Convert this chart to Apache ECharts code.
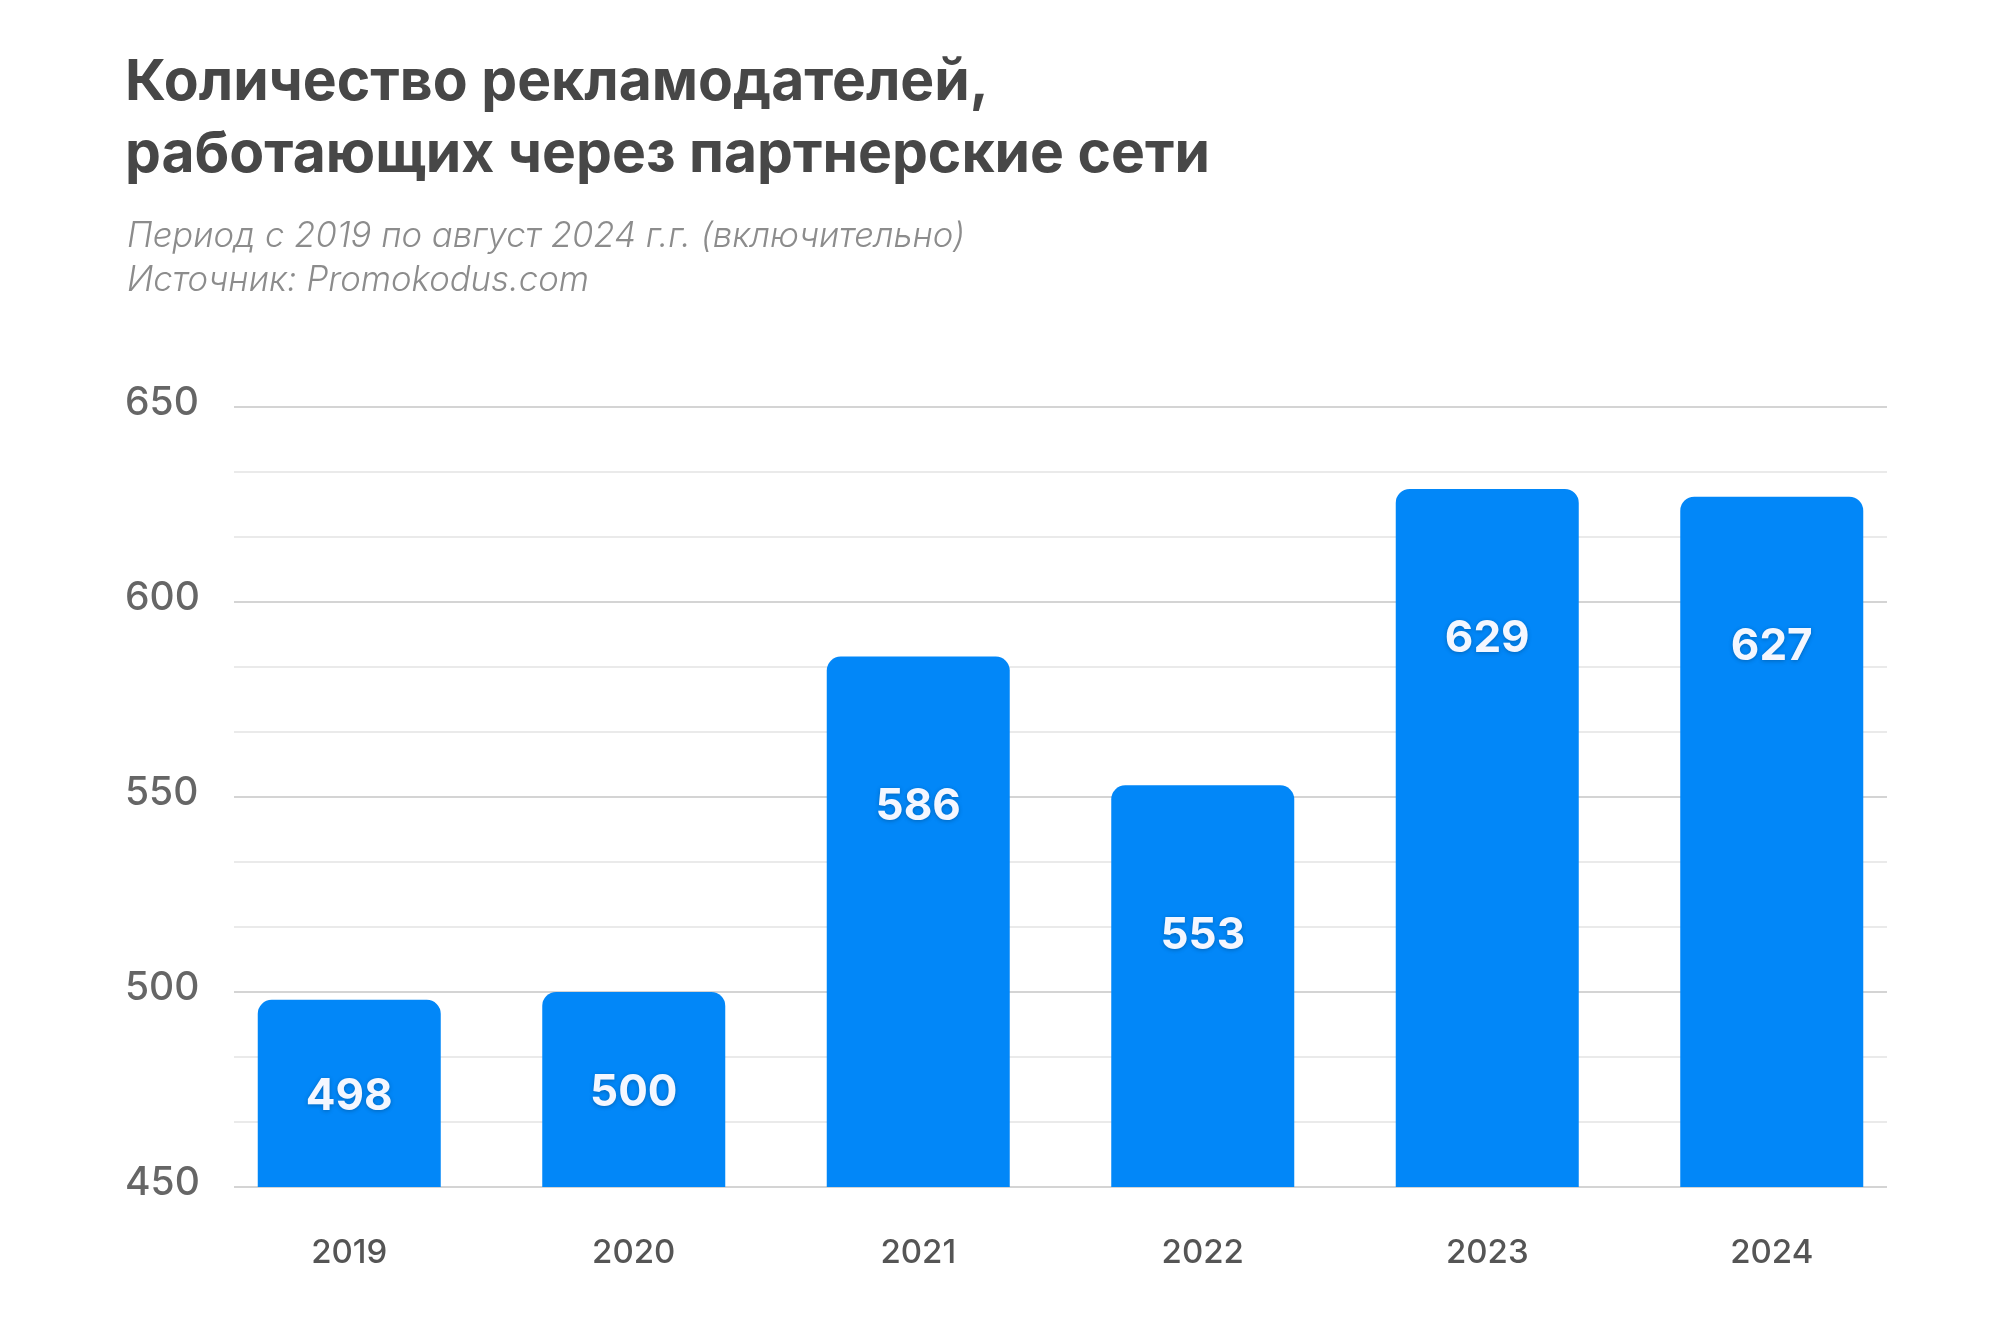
<!DOCTYPE html>
<html>
<head>
<meta charset="utf-8">
<script src="https://cdn.jsdelivr.net/npm/echarts@6/dist/echarts.min.js"></script>
<style>
html,body{margin:0;padding:0;background:#fff;}
#chart{width:1999px;height:1344px;}
</style>
</head>
<body>
<div id="chart"></div>
<script>
const titleText = 'Количество рекламодателей,\nработающих через партнерские сети';
const subtitleText = 'Период с 2019 по август 2024 г.г. (включительно)\nИсточник: Promokodus.com';
const categories = ['2019', '2020', '2021', '2022', '2023', '2024'];
const values = [498, 500, 586, 553, 629, 627];
const yMin = 450, yMax = 650, yStep = 50;

const FONT = 'Inter, "Noto Sans", sans-serif';
const chart = echarts.init(document.getElementById('chart'), null, {renderer: 'canvas'});

const barData = values.map((v, i) => {
  const short = (v - yMin) < 80;
  return {
    value: v,
    label: short ? {position: 'inside', verticalAlign: 'middle', offset: [0, 3]} : {position: 'insideTop', distance: 150, verticalAlign: 'middle'}
  };
});

chart.setOption({
  backgroundColor: '#ffffff',
  animation: false,
  title: [
    {
      text: titleText, left: 120, top: 42,
      textStyle: {fontFamily: FONT, fontSize: 57, fontWeight: 700, color: '#474747', lineHeight: 72}
    },
    {
      text: subtitleText, left: 122, top: 210,
      textStyle: {fontFamily: FONT, fontSize: 34.7, fontWeight: 300, fontStyle: 'italic', color: '#8c8c8c', lineHeight: 44}
    }
  ],
  grid: [
    {left: 234, right: 112, top: 407, bottom: 157},
    {left: 207, right: 85, top: 407, bottom: 157}
  ],
  xAxis: [
    {gridIndex: 0, type: 'category', data: categories, show: false},
    {
      gridIndex: 1, type: 'category', data: categories,
      axisLine: {show: false}, axisTick: {show: false},
      axisLabel: {margin: 50, fontFamily: FONT, fontSize: 33, fontWeight: 500, color: '#555555'}
    }
  ],
  yAxis: [
    {
      gridIndex: 0, type: 'value', min: yMin, max: yMax, interval: yStep,
      axisLine: {show: false}, axisTick: {show: false},
      axisLabel: {margin: 109, align: 'left', verticalAlign: 'bottom', lineHeight: 8, fontFamily: FONT, fontSize: 39, fontWeight: 500, color: '#666666'},
      splitLine: {show: true, lineStyle: {color: '#c6c6c6', width: 1.5}},
      minorTick: {show: false, splitNumber: 3},
      minorSplitLine: {show: true, lineStyle: {color: '#e4e4e4', width: 1.5}}
    },
    {
      gridIndex: 1, type: 'value', min: yMin, max: yMax, interval: yStep, show: false,
      splitLine: {show: false}
    }
  ],
  series: [
    {
      type: 'bar', xAxisIndex: 1, yAxisIndex: 1, data: barData, barWidth: 183,
      itemStyle: {color: '#0287f8', borderRadius: [14, 14, 0, 0]},
      label: {
        show: true, color: '#f4f7ff', fontFamily: FONT, fontSize: 44, fontWeight: 700,
        textShadowColor: 'rgba(0,0,0,0.25)', textShadowBlur: 4, textShadowOffsetY: 1
      }
    }
  ]
});
</script>
</body>
</html>
